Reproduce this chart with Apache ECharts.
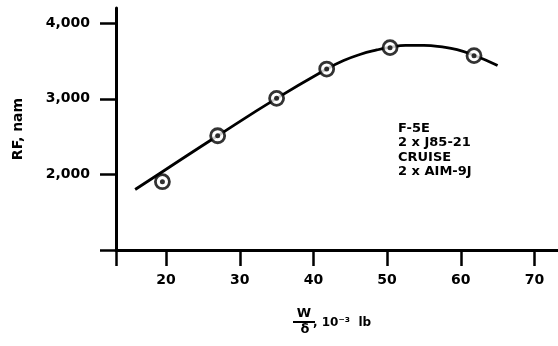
<!DOCTYPE html>
<html>
<head>
<meta charset="utf-8">
<script src="https://cdn.jsdelivr.net/npm/echarts@6/dist/echarts.min.js"></script>
<style>
  html, body { margin: 0; padding: 0; background: #fff; }
  #chart { width: 558px; height: 346px; }
</style>
</head>
<body>
<div id="chart"></div>
<script>
const FONT = '"DejaVu Sans", sans-serif';

// W/δ axis (10^3 lb): visible range and labelled ticks
const xMin = 13.2;
const xMax = 73.2;
const xTickLabels = [20, 30, 40, 50, 60, 70];

// Range factor axis (n mi)
const yMin = 1000;
const yMax = 4200;
const yTickLabels = [2000, 3000, 4000];

// Faired range-factor curve
const curveW  = [15.8, 19.5, 27.0, 35.0, 41.8, 44.1, 46.3, 48.6, 50.4, 52.5, 55.0, 57.5, 59.5, 61.8, 65.0];
const curveRF = [1800, 2035, 2511, 3005, 3393, 3505, 3585, 3645, 3680, 3705, 3705, 3685, 3650, 3575, 3440];

// Measured points
const pointW  = [19.5, 27.0, 35.0, 41.8, 50.4, 61.8];
const pointRF = [1903, 2511, 3005, 3393, 3676, 3570];

// Configuration note
const configLines = ['F-5E', '2 x J85-21', 'CRUISE', '2 x AIM-9J'];

const curveData = curveW.map((w, i) => [w, curveRF[i]]);
const pointData = pointW.map((w, i) => [w, pointRF[i]]);

const axisLineStyle = { color: '#000', width: 3 };
const labelStyle = { color: '#000', fontFamily: FONT, fontWeight: 'bold', fontSize: 14 };

const chart = echarts.init(document.getElementById('chart'), null, { renderer: 'canvas' });

chart.setOption({
  animation: false,
  backgroundColor: '#fff',
  grid: { left: 116, right: 0, top: 8, bottom: 96, containLabel: false },
  xAxis: {
    type: 'value',
    min: xMin,
    max: xMax,
    splitLine: { show: false },
    axisLine: { show: true, onZero: false, lineStyle: axisLineStyle },
    axisTick: {
      show: true,
      length: 16,
      lineStyle: { color: '#000', width: 2.5 },
      customValues: [xMin].concat(xTickLabels)
    },
    axisLabel: Object.assign({
      margin: 23,
      customValues: xTickLabels,
      formatter: v => String(v)
    }, labelStyle)
  },
  yAxis: {
    type: 'value',
    min: yMin,
    max: yMax,
    splitLine: { show: false },
    axisLine: { show: true, onZero: false, lineStyle: axisLineStyle },
    axisTick: {
      show: true,
      length: 16,
      lineStyle: { color: '#000', width: 2.5 },
      customValues: [yMin].concat(yTickLabels)
    },
    axisLabel: Object.assign({
      margin: 26,
      customValues: yTickLabels,
      formatter: v => v.toLocaleString('en-US')
    }, labelStyle),
    name: 'RF, nam',
    nameLocation: 'middle',
    nameGap: 91,
    nameTextStyle: { color: '#000', fontFamily: FONT, fontWeight: 'bold', fontSize: 14 }
  },
  series: [
    {
      type: 'line',
      data: curveData,
      smooth: 0.5,
      showSymbol: false,
      silent: true,
      lineStyle: { color: '#000', width: 2.8 },
      z: 2
    },
    {
      type: 'scatter',
      data: pointData,
      symbol: 'circle',
      symbolSize: 14,
      silent: true,
      itemStyle: { color: '#fff', borderColor: '#000', borderWidth: 2.8 },
      z: 3
    },
    {
      type: 'scatter',
      data: pointData,
      symbol: 'circle',
      symbolSize: 5,
      silent: true,
      itemStyle: { color: '#000' },
      z: 4
    }
  ],
  graphic: [
    {
      type: 'text',
      left: 398,
      top: 121,
      style: {
        text: configLines.join('\n'),
        font: 'bold 13px ' + FONT,
        lineHeight: 14.5,
        fill: '#000'
      }
    },
    {
      type: 'text',
      x: 304,
      y: 314,
      style: { text: 'W', font: 'bold 13px ' + FONT, align: 'center', verticalAlign: 'middle', fill: '#000' }
    },
    {
      type: 'line',
      shape: { x1: 293, y1: 322, x2: 315, y2: 322 },
      style: { stroke: '#000', lineWidth: 2 }
    },
    {
      type: 'text',
      x: 305,
      y: 329.5,
      style: { text: 'δ', font: 'bold 13px ' + FONT, align: 'center', verticalAlign: 'middle', fill: '#000' }
    },
    {
      type: 'text',
      x: 313,
      y: 322.5,
      style: { text: ', 10⁻³  lb', font: 'bold 12px ' + FONT, align: 'left', verticalAlign: 'middle', fill: '#000' }
    }
  ]
});
</script>
</body>
</html>
